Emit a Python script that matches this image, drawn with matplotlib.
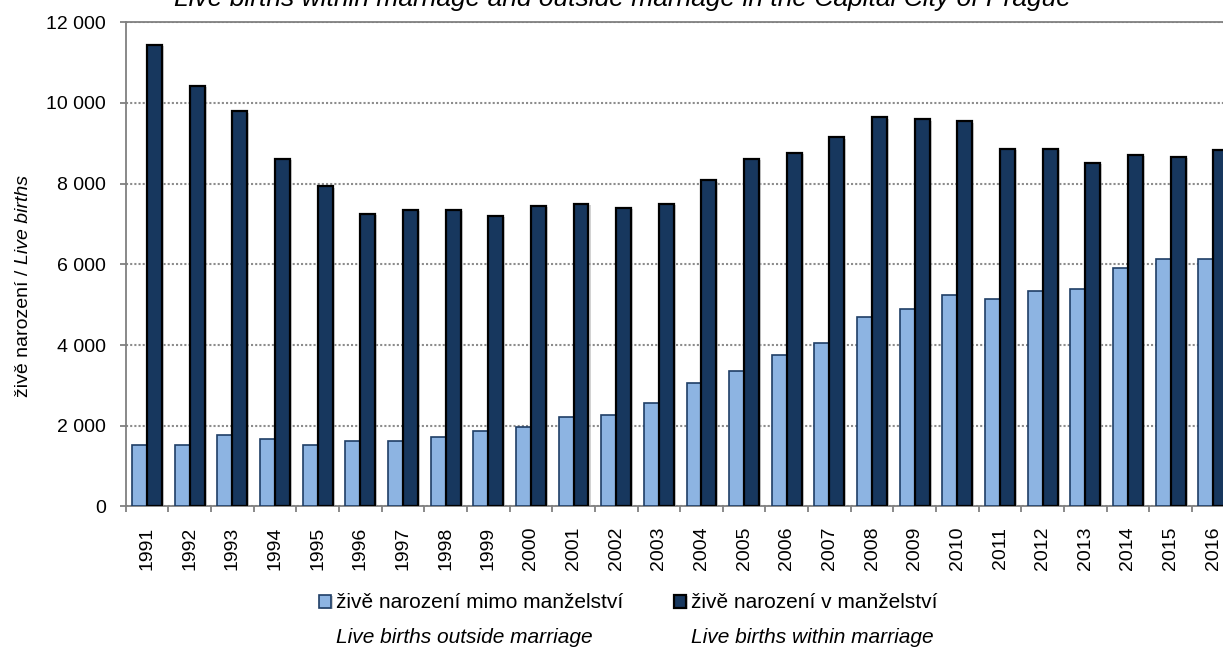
import matplotlib

matplotlib.use("Agg")
import matplotlib.patheffects as pe
import matplotlib.pyplot as plt
import numpy as np
from matplotlib.ticker import FuncFormatter

plt.rcParams["font.family"] = ["Liberation Sans", "DejaVu Sans"]

# ---- data
years = list(range(1991, 2017))
outside = [1510, 1510, 1760, 1660, 1510, 1620, 1620, 1710, 1870, 1960,
           2210, 2260, 2560, 3050, 3350, 3750, 4050, 4690, 4890, 5240,
           5140, 5340, 5390, 5920, 6120, 6120]
within = [11440, 10430, 9790, 8610, 7930, 7250, 7350, 7350, 7200, 7445,
          7495, 7400, 7495, 8080, 8610, 8760, 9150, 9640, 9590, 9545,
          8860, 8860, 8520, 8715, 8665, 8825]
legend_cz = ["živě narození mimo manželství", "živě narození v manželství"]
legend_en = ["Live births outside marriage", "Live births within marriage"]
title = "Live births within marriage and outside marriage in the Capital City of Prague"
ylab_cz = "živě narození / "
ylab_en = "Live births"

W, H = 1223, 648
fig = plt.figure(figsize=(W / 100, H / 100), dpi=100)
ax = fig.add_axes([125.7 / W, 1 - 506.4 / H, (1234.6 - 125.7) / W, (506.4 - 22.2) / H])

x = np.arange(len(years))
bw = 0.35
shadow = [pe.SimplePatchShadow(offset=(1.5, -1), shadow_rgbFace="#a6a6a6", alpha=0.5), pe.Normal()]
b1 = ax.bar(x - bw, outside, bw, align="edge", color="#8DB4E2",
            edgecolor="#1F3E66", linewidth=1.2, zorder=3)
b2 = ax.bar(x, within, bw, align="edge", color="#17375E",
            edgecolor="black", linewidth=1.6, zorder=3)
for b in list(b1) + list(b2):
    b.set_path_effects(shadow)

ax.set_xlim(-0.5, len(years) - 0.5)
ax.set_ylim(0, 12000)
ax.set_yticks(range(0, 12001, 2000))
ax.yaxis.set_major_formatter(FuncFormatter(lambda v, p: f"{int(v):,}".replace(",", " ")))
ax.set_xticks(x)
ax.set_xticklabels(years, rotation=90)
ax.set_xticks(np.arange(-0.5, len(years)), minor=True)
ax.tick_params(axis="x", which="major", length=0, pad=14.5, labelsize=14)
ax.tick_params(axis="x", which="minor", length=4, width=1.3, color="#808080", direction="out")
ax.tick_params(axis="y", length=4.3, width=1.3, color="#808080", pad=10, labelsize=14)
ax.grid(axis="y", ls=(0, (1, 1)), lw=1.5, color="#8c8c8c")
ax.set_axisbelow(True)
ax.spines["right"].set_visible(False)
for s in ("left", "bottom", "top"):
    ax.spines[s].set_color("#808080")
    ax.spines[s].set_linewidth(1.3)

# title sits mostly above the canvas, as in the source image
fig.text(622 / W, 1 - 6 / H, title, ha="center", va="baseline", style="italic", fontsize=19)

leg = fig.legend(handles=[b1, b2], labels=legend_cz, loc="center left",
                 bbox_to_anchor=(319 / W, 1 - 603 / H), ncol=2, frameon=False,
                 fontsize=15, handlelength=0.58, handleheight=0.58,
                 handletextpad=0.25, columnspacing=2.4, borderaxespad=0, borderpad=0)

t1 = fig.text(27.5 / W, 1 - 397 / H, ylab_cz, rotation=90, rotation_mode="anchor",
              ha="left", va="baseline", fontsize=14)

fig.canvas.draw()
inv = fig.transFigure.inverted()
for t, lab in zip(leg.get_texts(), legend_en):
    x0 = inv.transform(t.get_window_extent().p0)[0]
    fig.text(x0, 1 - 643 / H, lab, style="italic", fontsize=15, ha="left", va="baseline")

y1 = inv.transform(t1.get_window_extent().p1)[1]
fig.text(27.5 / W, y1, ylab_en, rotation=90, rotation_mode="anchor",
         ha="left", va="baseline", fontsize=14, style="italic")

fig.savefig("out.png", dpi=100)
